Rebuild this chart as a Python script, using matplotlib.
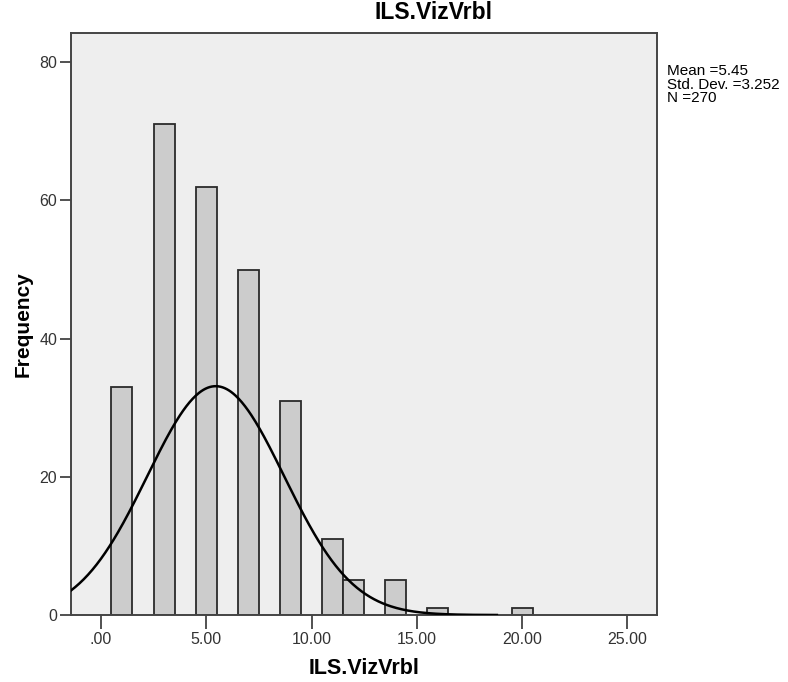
import numpy as np
import matplotlib.pyplot as plt

plt.rcParams['font.family'] = ['Liberation Sans', 'DejaVu Sans']

# histogram bins (centre value) and counts
bin_centers = [1, 3, 5, 7, 9, 11, 12, 14, 16, 20]
counts = [33, 71, 62, 50, 31, 11, 5, 5, 1, 1]
x_ticks = [0, 5, 10, 15, 20, 25]
x_tick_labels = [".00", "5.00", "10.00", "15.00", "20.00", "25.00"]
y_ticks = [0, 20, 40, 60, 80]

mean = 5.45
std_dev = 3.252
n = 270
bin_width = 1.0

fig = plt.figure(figsize=(7.88, 6.82), dpi=100)
ax = fig.add_axes([0.0901, 0.0982, 0.7433, 0.853])
ax.set_facecolor('#eeeeee')

ax.bar(bin_centers, counts, width=bin_width, color='#cccccc',
       edgecolor='#2a2a2a', linewidth=1.3, zorder=2)

# normal curve scaled to counts
xs = np.linspace(-1.42, 18.8, 400)
ys = n * bin_width / (std_dev * np.sqrt(2 * np.pi)) * np.exp(-0.5 * ((xs - mean) / std_dev) ** 2)
ax.plot(xs, ys, color='black', linewidth=1.8, zorder=3)

ax.set_xlim(-1.42, 26.39)
ax.set_ylim(0, 84.2)
ax.set_xticks(x_ticks)
ax.set_xticklabels(x_tick_labels)
ax.set_yticks(y_ticks)
ax.tick_params(axis='x', direction='out', length=10, width=1.2, labelsize=11.5,
               colors='#333333', pad=2)
ax.tick_params(axis='y', direction='out', length=8, width=1.2, labelsize=11.5,
               colors='#333333', pad=2)
for sp in ax.spines.values():
    sp.set_color('#444444')
    sp.set_linewidth(1.4)

fig.text(0.55, 0.981, "ILS.VizVrbl", fontsize=16.5, fontweight='bold',
         ha='center', va='center')
ax.set_xlabel("ILS.VizVrbl", fontsize=15.5, fontweight='bold', labelpad=8)
ax.set_ylabel("Frequency", fontsize=15, fontweight='bold', labelpad=5)

fig.text(0.846, 0.906, f"Mean ={mean}\nStd. Dev. ={std_dev}\nN ={n}",
         fontsize=11, va='top', ha='left', linespacing=0.95)

fig.savefig("out.png", dpi=100)
